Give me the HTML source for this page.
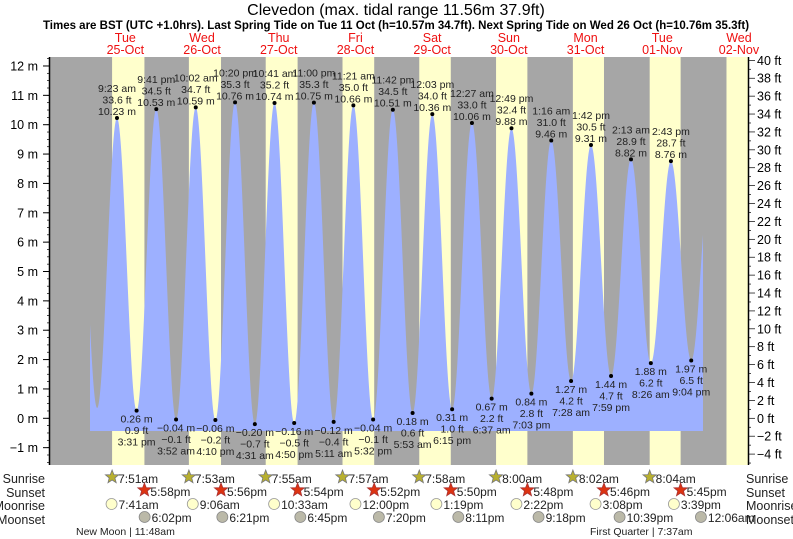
<!DOCTYPE html>
<html><head><meta charset="utf-8"><style>
body{margin:0;background:#fff;}
svg{display:block;font-family:"Liberation Sans",Arial,sans-serif;}
</style></head><body>
<svg id="chart" width="793" height="539" viewBox="0 0 793 539" xmlns="http://www.w3.org/2000/svg">
<text x="396" y="15" text-anchor="middle" font-size="16" fill="#000">Clevedon (max. tidal range 11.56m 37.9ft)</text>
<text x="396" y="29" text-anchor="middle" font-size="11.5" font-weight="bold" fill="#000">Times are BST (UTC +1.0hrs). Last Spring Tide on Tue 11 Oct (h=10.57m 34.7ft). Next Spring Tide on Wed 26 Oct (h=10.76m 35.3ft)</text>
<g id="bg"></g><g id="water"></g><g id="axes"></g><g id="labels"></g><g id="astro"></g>
</svg>
<script>
// ---- data ----
const dayNames = ["Tue","Wed","Thu","Fri","Sat","Sun","Mon","Tue","Wed"];
const dayDates = ["25-Oct","26-Oct","27-Oct","28-Oct","29-Oct","30-Oct","31-Oct","01-Nov","02-Nov"];
// tide extremes: hours from Tue 25-Oct 00:00
const tideHours = [-3.0,3.17,9.38,15.52,21.68,27.87,34.03,40.17,46.33,52.52,58.68,64.83,71.0,77.18,83.35,89.53,95.7,101.88,108.05,114.25,120.45,126.62,132.82,139.05,145.27,151.47,157.7,163.98,170.22,176.43,182.72,189.07,195.2];
const tideMeters = [10.2,0.35,10.23,0.26,10.53,-0.04,10.59,-0.06,10.76,-0.20,10.74,-0.16,10.75,-0.12,10.66,-0.04,10.51,0.18,10.36,0.31,10.06,0.67,9.88,0.84,9.46,1.27,9.31,1.44,8.82,1.88,8.76,1.97,8.5];
const tideFeet = ["","","33.6","0.9","34.5","-0.1","34.7","-0.2","35.3","-0.7","35.2","-0.5","35.3","-0.4","35.0","-0.1","34.5","0.6","34.0","1.0","33.0","2.2","32.4","2.8","31.0","4.2","30.5","4.7","28.9","6.2","28.7","6.5",""];
const tideTimes = ["","","9:23 am","3:31 pm","9:41 pm","3:52 am","10:02 am","4:10 pm","10:20 pm","4:31 am","10:41 am","4:50 pm","11:00 pm","5:11 am","11:21 am","5:32 pm","11:42 pm","5:53 am","12:03 pm","6:15 pm","12:27 am","6:37 am","12:49 pm","7:03 pm","1:16 am","7:28 am","1:42 pm","7:59 pm","2:13 am","8:26 am","2:43 pm","9:04 pm",""];
const sunriseH = [7.85,7.883,7.917,7.95,7.967,8.0,8.033,8.067,8.1];
const sunriseTxt = ["7:51am","7:53am","7:55am","7:57am","7:58am","8:00am","8:02am","8:04am",""];
const sunsetH = [17.967,17.933,17.9,17.867,17.833,17.8,17.767,17.75];
const sunsetTxt = ["5:58pm","5:56pm","5:54pm","5:52pm","5:50pm","5:48pm","5:46pm","5:45pm"];
const moonriseH = [7.683,9.1,10.55,12.0,13.317,14.367,15.133,15.65];
const moonriseTxt = ["7:41am","9:06am","10:33am","12:00pm","1:19pm","2:22pm","3:08pm","3:39pm"];
const moonsetH = [18.033,18.35,18.75,19.333,20.183,21.3,22.65,24.1];
const moonsetTxt = ["6:02pm","6:21pm","6:45pm","7:20pm","8:11pm","9:18pm","10:39pm","12:06am"];
const mTicks = [12,11,10,9,8,7,6,5,4,3,2,1,0,-1];
const ftTicks = [40,38,36,34,32,30,28,26,24,22,20,18,16,14,12,10,8,6,4,2,0,-2,-4];

// ---- scales ----
const X0=50,X1=748,Y0=57,Y1=465, WX0=90, WX1=703, WBOT=431;
const PXH=76.7/24, MID=87;
const xT=h=>MID+h*PXH;
const tX=x=>(x-MID)/PXH;
const yM=m=>418.3-m*29.36;
const NS="http://www.w3.org/2000/svg";
function mk(tag,attrs,parent,txt){const e=document.createElementNS(NS,tag);for(const k in attrs)e.setAttribute(k,attrs[k]);if(txt!==undefined)e.textContent=txt;parent.appendChild(e);return e;}
const bg=document.getElementById('bg'),water=document.getElementById('water'),axes=document.getElementById('axes'),labels=document.getElementById('labels'),astro=document.getElementById('astro');

// background
let r=mk('rect',{x:X0,y:Y0,width:X1-X0,height:Y1-Y0,fill:'#a6a6a6'},bg);


for(let d=0;d<9;d++){
  const a=xT(d*24+sunriseH[d]); const b=d<8?xT(d*24+sunsetH[d]):X1;
  const rr=mk('rect',{x:a,y:Y0,width:Math.min(b,X1)-a,height:Y1-Y0,fill:'#ffffcc'},bg);
  
  
}
// day labels
for(let d=0;d<9;d++){
  const cx=xT(d*24+12);
  const t1=mk('text',{x:cx,y:42,'text-anchor':'middle','font-size':'12.5',fill:'#ee1111'},labels,dayNames[d]);
  
  
  const t2=mk('text',{x:cx,y:54,'text-anchor':'middle','font-size':'12.5',fill:'#ee1111'},labels,dayDates[d]);
  
  
}
// water curve
function level(h){
  for(let i=0;i<tideHours.length-1;i++){
    if(h>=tideHours[i]&&h<=tideHours[i+1]){
      const f=(h-tideHours[i])/(tideHours[i+1]-tideHours[i]);
      return tideMeters[i]+(tideMeters[i+1]-tideMeters[i])*(1-Math.cos(Math.PI*f))/2;
    }
  }
  return tideMeters[tideMeters.length-1];
}
let d=`M${WX0},${WBOT}`;
for(let x=WX0;x<=WX1;x+=0.5){d+=` L${x},${yM(level(tX(x))).toFixed(2)}`;}
d+=` L${WX1},${WBOT} Z`;
const wp=mk('path',{d:d,fill:'#9db0ff'},water);


// extreme points & labels
for(let i=2;i<tideHours.length-1;i++){
  const x=xT(tideHours[i]),y=yM(tideMeters[i]);
  const hi=tideMeters[i]>5;
  const c=mk('circle',{cx:x,cy:y,r:2,fill:'#000'},labels);
  
  
  const mTxt=tideMeters[i].toFixed(2).replace('-','\u2212')+' m';
  const fTxt=tideFeet[i].replace('-','\u2212')+' ft';
  const lines=hi?[tideTimes[i],fTxt,mTxt]:[mTxt,fTxt,tideTimes[i]];
  const base=hi?y-26:y+12;
  lines.forEach((s,k)=>{
    const t=mk('text',{x:x,y:base+k*11.5,'text-anchor':'middle','font-size':'10.5',fill:'#222'},labels,s);
    
    
  });
}
// axes
mk('line',{x1:X0-0.5,y1:Y0,x2:X0-0.5,y2:Y1,stroke:'#000','stroke-width':1.5},axes);
mk('line',{x1:X1+0.5,y1:Y0,x2:X1+0.5,y2:Y1,stroke:'#000','stroke-width':1.5},axes);
for(let m=-1.5;m<=12.3;m+=0.25){const y=yM(m);mk('line',{x1:X0-3,y1:y,x2:X0,y2:y,stroke:'#000','stroke-width':0.7},axes);}
mTicks.forEach(m=>{
  const y=yM(m);
  mk('line',{x1:X0-7,y1:y,x2:X0,y2:y,stroke:'#000'},axes);
  const t=mk('text',{x:38,y:y+4.5,'text-anchor':'end','font-size':'12.5',fill:'#000'},axes,String(m).replace('-','\u2212')+' m');
  
  
});
for(let f=-5;f<=40;f++){const y=yM(f*0.3048);mk('line',{x1:X1,y1:y,x2:X1+(f%2===0?7:3),y2:y,stroke:'#000','stroke-width':0.7},axes);}
ftTicks.forEach(f=>{
  const y=yM(f*0.3048);
  const t=mk('text',{x:757,y:y+4.5,'font-size':'12.5',fill:'#000'},axes,String(f).replace('-','\u2212')+' ft');
  
  
});
// astro rows
const rows=[["Sunrise",479],["Sunset",493],["Moonrise",506],["Moonset",520]];
rows.forEach(([n,y])=>{
  const a=mk('text',{x:45,y:y+4,'text-anchor':'end','font-size':'12.5',fill:'#222'},astro,n);
  
  
  const b=mk('text',{x:746,y:y+4,'font-size':'12.5',fill:'#222'},astro,n);
  
  
});
function star(cx,cy,fill,stroke){let p='';for(let k=0;k<10;k++){const rr=k%2?3:7;const a=-Math.PI/2+k*Math.PI/5;p+=(k?'L':'M')+(cx+rr*Math.cos(a)).toFixed(1)+','+(cy+rr*Math.sin(a)).toFixed(1);}return mk('path',{d:p+'Z',fill:fill,stroke:stroke,'stroke-width':0.8},astro);}
for(let i=0;i<8;i++){
  let x=xT(i*24+sunriseH[i]);
  const s=star(x,477,'#b8b030','#777');
  
  
  const t=mk('text',{x:x+6,y:483,'font-size':'12',fill:'#222'},astro,sunriseTxt[i]);
  
  
  x=xT(i*24+sunsetH[i]);
  const s2=star(x,490,'#dd3311','#a33');
  
  
  const t2=mk('text',{x:x+6,y:496,'font-size':'12',fill:'#222'},astro,sunsetTxt[i]);
  
  
  x=xT(i*24+moonriseH[i]);
  const c=mk('circle',{cx:x,cy:504,r:5.5,fill:'#ffffcc',stroke:'#999','stroke-width':0.8},astro);
  
  
  const t3=mk('text',{x:x+7,y:509,'font-size':'12',fill:'#222'},astro,moonriseTxt[i]);
  
  
  x=xT(i*24+moonsetH[i]);
  const c2=mk('circle',{cx:x,cy:517,r:5.5,fill:'#bbb9a8',stroke:'#888','stroke-width':0.8},astro);
  
  
  const t4=mk('text',{x:x+7,y:522,'font-size':'12',fill:'#222'},astro,moonsetTxt[i]);
  
  
}
const np=mk('text',{x:76,y:535,'font-size':'10.5',fill:'#222'},astro,'New Moon | 11:48am');


const fq=mk('text',{x:590,y:535,'font-size':'10.5',fill:'#222'},astro,'First Quarter | 7:37am');


</script>
</body></html>
